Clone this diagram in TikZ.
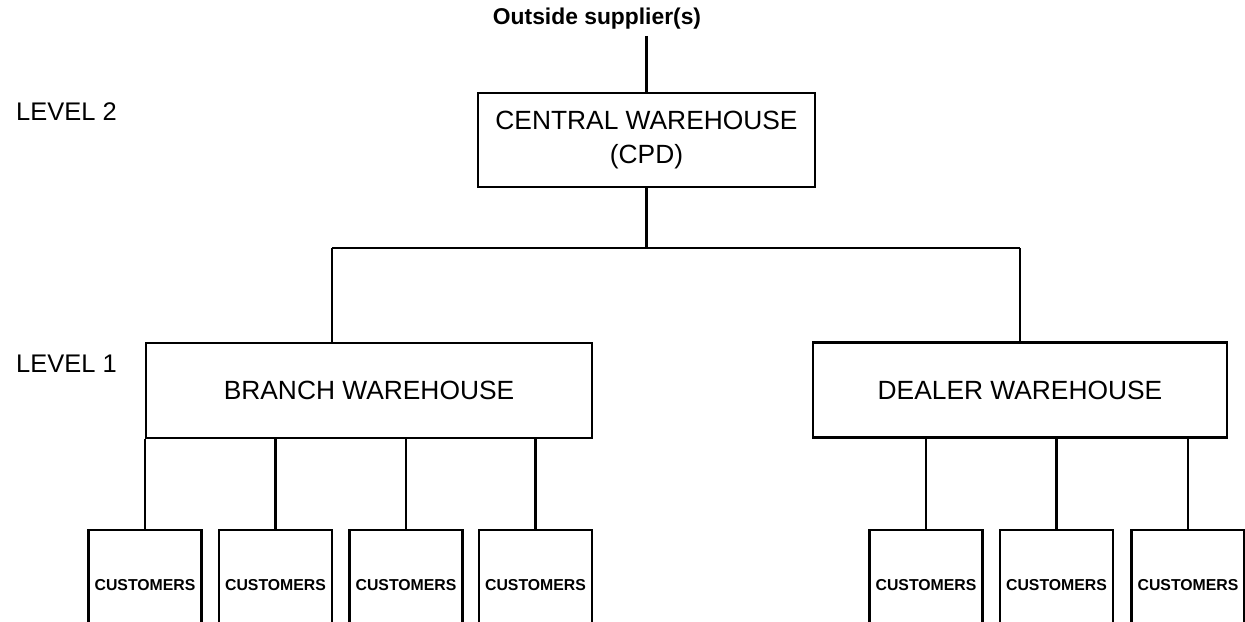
\documentclass[tikz,border=0pt]{standalone}
\usepackage{fontspec}
\setmainfont{Liberation Sans}
\usetikzlibrary{positioning}

\begin{document}
\begin{tikzpicture}[
x=0.02cm, y=-0.02cm,
lvl/.style={font=\fontsize{14.5}{17}\selectfont, anchor=west},
whbox/.style={draw, line width=1.3pt, minimum height=1.9cm, align=center,
font=\fontsize{15}{19}\selectfont},
custbox/.style={draw, line width=1.3pt, minimum width=2.26cm, minimum height=2.2cm,
font=\fontsize{9}{11}\selectfont\bfseries},
link/.style={line width=1.3pt}
]
\clip (0,0) rectangle (1245,622);

\node[lvl] (lv2) at (10,112) {LEVEL 2};
\node[lvl] (lv1) at (10,364) {LEVEL 1};

\node[font=\fontsize{13}{15}\selectfont\bfseries] (supp) at (597,19) {Outside supplier(s)};

\node[whbox, minimum width=6.74cm, minimum height=1.88cm] (cw) at (646.5,140)
{CENTRAL WAREHOUSE\\(CPD)};
\node[whbox, minimum width=8.92cm] (bw) at (369,390.5) {BRANCH WAREHOUSE};
\node[whbox, minimum width=8.28cm] (dw) at (1020,390) {DEALER WAREHOUSE};

\draw[link] (cw.north |- supp.south) -- (cw.north);

% distribution bar
\coordinate (bar) at (646.5,248);
\coordinate (barl) at (332,248);
\coordinate (barr) at (1020,248);
\draw[link] (cw.south) -- (bar);
\draw[link] (barl) -- (barr);
\draw[link] (barl) -- (barl |- bw.north);
\draw[link] (barr) -- (dw.north);

\foreach \n/\x in {1/145, 2/275.5, 3/406, 4/535.5} {
\node[custbox] (cb\n) at (\x,585) {CUSTOMERS};
\draw[link] (cb\n.north |- bw.south) -- (cb\n.north);
}
\foreach \n/\x in {1/926, 2/1056.5, 3/1188} {
\node[custbox] (cd\n) at (\x,585) {CUSTOMERS};
\draw[link] (cd\n.north |- dw.south) -- (cd\n.north);
}

\end{tikzpicture}
\end{document}
